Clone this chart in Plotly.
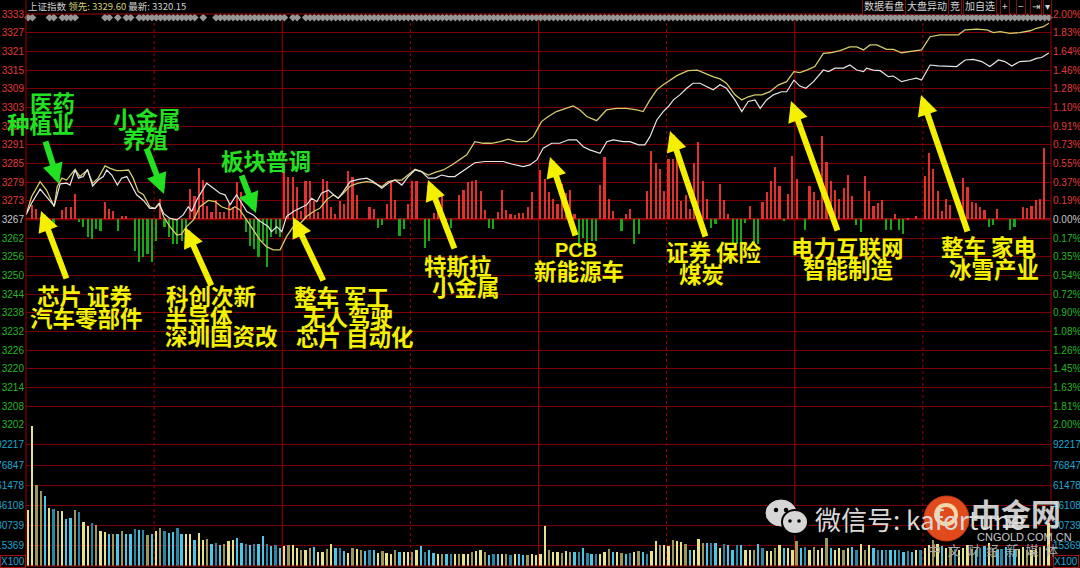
import plotly.graph_objects as go

# ------------------------------------------------------------------ data
PREV_CLOSE = 3267.19
price_labels = ["3333", "3327", "3321", "3315", "3309", "3303", "3297", "3291", "3285", "3279", "3273", "3267",
                "3262", "3256", "3250", "3244", "3238", "3232", "3226", "3220", "3214", "3208", "3202"]
pct_labels = ["2.00%", "1.83%", "1.64%", "1.46%", "1.28%", "1.10%", "0.91%", "0.73%", "0.55%", "0.37%", "0.19%", "0.00%",
              "0.17%", "0.35%", "0.54%", "0.72%", "0.90%", "1.08%", "1.26%", "1.45%", "1.63%", "1.81%", "2.00%"]
VOL_STEP = 15369.5
vol_labels = ["15369", "30739", "46108", "61478", "76847", "92217"]

# index (white) line: minutes after 9:30, price
white_min = [0, 1.3, 3.3, 4.8, 6.6, 8, 9.5, 10.3, 11.5, 12.3,
             13.4, 14.4, 15.6, 16.9, 18.1, 18.9, 20.1, 21.4, 22.4, 23.6,
             24.7, 25.9, 27.5, 29, 30.2, 31.2, 32.2, 33.7, 35.3, 36.8,
             38, 38.8, 40, 41.1, 42.3, 43.9, 45.4, 46.6, 47.8, 48.5,
             49.3, 50.5, 51.7, 53.2, 54.4, 55.6, 56.7, 57.5, 58.7, 59.9,
             61, 62.6, 64.2, 65.7, 66.9, 68.1, 69.2, 70.8, 72, 73.1,
             74.3, 75.9, 77.8, 79.8, 81.3, 83.3, 84.8, 86.4, 88, 89.5,
             91.1, 92.6, 94.2, 95.8, 97.3, 98.9, 100.4, 101.6, 103.2, 105.1,
             107.5, 109.4, 111.8, 113.7, 116.4, 118, 119.6, 121.1, 123.1, 125,
             127, 128.9, 130.5, 132, 134.4, 136, 137.5, 139.9, 141.4, 143.4,
             144.9, 146.1, 147.7, 149.2, 150.4, 151.6, 153.1, 154.7, 156.2, 157.8,
             159.4, 160.9, 162.5, 164, 166, 167.6, 169.1, 170.7, 171.9, 173.4,
             175, 176.9, 178.1, 179.8, 181.2, 182.6, 184.4, 186.7, 187.9, 189.4,
             191.4, 192.9, 194.5, 196.1, 196.8, 198.4, 200, 201.9, 203.1, 205,
             207, 208.5, 209.7, 211.7, 213.6, 216, 217.9, 219.9, 221.8, 223.8,
             225.7, 227.7, 229.2, 230.8, 232.7, 235.1, 236.6, 237.8, 239.5]
white_px = [3268.6, 3272.3, 3276.8, 3274.4, 3271.5, 3278.5, 3278.7, 3278.1, 3282.9, 3280.3,
            3280.8, 3283.1, 3277.8, 3279.7, 3280.8, 3282.9, 3281.3, 3278.1, 3280.3, 3280.8,
            3278.1, 3275.0, 3273.2, 3270.7, 3270.7, 3272.1, 3269.1, 3267.5, 3267.0, 3268.6,
            3271.2, 3269.7, 3273.4, 3276.0, 3278.7, 3277.1, 3275.5, 3275.0, 3271.8, 3273.4,
            3275.0, 3272.3, 3269.7, 3268.6, 3267.0, 3265.9, 3264.9, 3263.3, 3264.9, 3263.3,
            3268.1, 3269.7, 3270.7, 3271.8, 3273.9, 3272.8, 3275.5, 3276.5, 3275.0, 3273.9,
            3276.0, 3279.2, 3279.9, 3280.3, 3279.2, 3277.1, 3278.7, 3279.7, 3278.1, 3280.8,
            3282.9, 3282.4, 3280.3, 3280.3, 3281.3, 3280.8, 3280.8, 3281.9, 3283.4, 3285.2,
            3285.6, 3285.6, 3285.6, 3284.8, 3284.0, 3284.5, 3286.1, 3289.8, 3291.4, 3291.4,
            3292.5, 3292.5, 3290.3, 3289.3, 3288.2, 3291.9, 3292.5, 3291.9, 3291.9, 3290.9,
            3290.9, 3293.5, 3298.8, 3301.5, 3303.1, 3305.2, 3306.8, 3308.9, 3310.5, 3310.5,
            3309.4, 3308.4, 3310.0, 3308.9, 3305.2, 3301.5, 3304.7, 3305.2, 3302.5, 3305.2,
            3306.8, 3307.8, 3307.8, 3311.5, 3309.6, 3308.9, 3311.0, 3314.7, 3314.2, 3315.3,
            3315.3, 3316.3, 3314.7, 3314.2, 3315.3, 3314.7, 3314.5, 3312.6, 3312.8, 3311.0,
            3311.7, 3312.1, 3311.5, 3316.3, 3316.0, 3315.8, 3315.8, 3317.9, 3318.1, 3317.4,
            3315.8, 3317.9, 3317.4, 3316.0, 3317.4, 3317.6, 3318.4, 3318.7, 3320.15]

# leading (yellow) line
yellow_min = [0, 1.3, 3.3, 4.8, 6.6, 7.3, 8.4, 9.5, 11.5, 12.6,
              14.4, 15.6, 16.9, 18.5, 19.7, 21.2, 22.4, 24, 25.1, 26.3,
              27.5, 29, 30.2, 31.2, 32.2, 33.7, 35.3, 36.4, 37.6, 39.2,
              40.7, 42.7, 44.3, 45.8, 47.8, 48.9, 50.1, 51.7, 53.2, 54.8,
              56.3, 57.9, 59.5, 61, 62.6, 64.2, 65.7, 67.3, 68.8, 70.4,
              72, 73.1, 74.3, 75.9, 77.8, 79.8, 81.3, 83.3, 84.8, 86.4,
              88, 89.5, 91.1, 92.6, 94.2, 95.8, 97.7, 99.7, 101.6, 103.2,
              105.1, 107.1, 109, 111, 112.9, 114.9, 117.2, 118.8, 120.7, 122.3,
              124.2, 126.2, 128.1, 129.7, 131.3, 133.6, 135.9, 138.3, 140.6, 143,
              144.5, 146.1, 147.7, 149.2, 150.8, 152.5, 155, 157.2, 159.3, 161,
              162.5, 164, 166, 167.6, 169.1, 170.7, 172.3, 174.2, 176.2, 178.1,
              179.8, 181.2, 182.8, 184.7, 186.7, 188.3, 190.6, 192.9, 194.5, 196.1,
              197.6, 199.2, 201.5, 203.1, 205, 207, 209.7, 211.7, 214, 216.4,
              218.3, 219.9, 222.6, 225, 226.5, 228.1, 230.4, 232.7, 235.1, 236.6,
              238.2, 239.5]
yellow_px = [3268.6, 3274.4, 3279.2, 3276.5, 3271.2, 3277.6, 3280.3, 3279.7, 3283.1, 3280.8,
             3282.9, 3278.7, 3280.3, 3284.2, 3283.4, 3282.7, 3282.7, 3282.9, 3280.3, 3276.0,
             3275.0, 3271.2, 3270.7, 3272.3, 3268.1, 3264.9, 3262.2, 3262.5, 3264.9, 3267.0,
             3271.2, 3273.2, 3272.8, 3271.2, 3270.2, 3271.2, 3270.2, 3267.0, 3263.8, 3260.6,
             3258.5, 3257.5, 3257.5, 3261.7, 3264.9, 3265.9, 3268.1, 3269.7, 3270.7, 3273.4,
             3275.0, 3273.9, 3275.5, 3277.8, 3278.7, 3279.2, 3278.9, 3277.6, 3279.2, 3279.7,
             3279.7, 3281.3, 3283.1, 3282.4, 3281.3, 3282.1, 3282.9, 3284.5, 3286.1, 3287.7,
             3291.9, 3291.4, 3291.4, 3291.9, 3292.7, 3291.9, 3291.9, 3293.5, 3298.3, 3299.9,
             3301.5, 3302.5, 3303.3, 3302.0, 3299.9, 3298.6, 3302.0, 3302.5, 3302.5, 3302.0,
             3301.5, 3305.2, 3308.4, 3310.0, 3311.5, 3313.0, 3314.5, 3314.7, 3313.5, 3312.5,
             3311.9, 3310.5, 3306.8, 3305.2, 3306.2, 3306.8, 3306.8, 3307.8, 3310.0, 3311.0,
             3314.2, 3313.9, 3314.7, 3315.8, 3320.0, 3320.2, 3320.9, 3322.1, 3322.1, 3321.1,
             3322.7, 3322.7, 3321.3, 3321.3, 3320.2, 3320.5, 3321.1, 3325.3, 3325.9, 3325.9,
             3325.9, 3327.5, 3327.7, 3327.5, 3326.6, 3326.9, 3326.4, 3326.6, 3327.2, 3328.0,
             3328.5, 3329.6]

# red / green strength bars (minute, value in index points from previous close)
flow_min = [2, 3, 6, 7, 9, 10, 11, 12, 13, 14, 15, 16, 17, 18, 19, 20, 21, 22, 23, 24,
            26, 27, 28, 29, 30, 31, 32, 33, 34, 35, 36, 37, 38, 39, 40, 41, 42, 43, 44, 45,
            46, 47, 48, 49, 50, 51, 52, 53, 54, 55, 56, 57, 58, 59, 60, 61, 62, 63, 64, 65,
            66, 67, 68, 69, 70, 71, 72, 73, 74, 75, 76, 77, 78, 81, 82, 83, 84, 85, 86, 87,
            88, 89, 90, 91, 92, 94, 95, 96, 97, 98, 99, 100, 102, 103, 104, 105, 106, 107, 108, 109,
            110, 111, 112, 113, 114, 115, 116, 117, 118, 119, 121, 122, 123, 124, 125, 126, 127, 128, 129, 130,
            131, 132, 133, 134, 135, 136, 137, 138, 140, 141, 142, 143, 144, 146, 147, 148, 149, 150, 151, 152,
            153, 154, 155, 156, 157, 158, 159, 160, 161, 162, 163, 164, 165, 166, 167, 168, 169, 170, 171, 172,
            173, 174, 175, 176, 177, 178, 179, 180, 181, 183, 184, 185, 186, 187, 188, 189, 190, 191, 192, 193,
            194, 195, 196, 197, 198, 199, 200, 201, 202, 203, 204, 205, 206, 207, 209, 211, 212, 213, 214, 215,
            216, 217, 220, 221, 222, 223, 224, 225, 226, 227, 228, 231, 232, 234, 235, 236, 237, 238, 239]
flow_val = [4.7, 3.3, -2.5, -2.0, 3.0, 3.8, 4.0, 8.1, -1.0, -2.5, -5.7, -6.3, -3.1, -3.6, 5.4, 3.3, 2.5, -3.6, 1.2, 1.2,
            -10.0, -13.7, -12.1, -11.0, -13.7, -6.8, 6.5, -2.5, -5.7, -7.8, -7.8, -6.8, -6.3, 9.7, 7.5, 16.3, 12.5, 4.3, 2.2, 6.2,
            2.2, 2.2, 4.9, 3.8, 11.8, 8.6, -4.1, -8.4, -9.4, -12.1, -7.3, -15.3, -5.7, -4.7, -5.7, 17.1, 13.4, 13.4, 10.2, 2.8,
            12.3, 12.3, 5.9, 2.2, 12.8, 12.3, 3.8, 1.7, 5.9, 4.9, 15.5, 13.4, 7.7, 3.9, 3.2, -2.6, -1.8, 4.8, 12.2, 6.0,
            -5.3, -3.2, 4.8, 12.2, 12.2, -9.0, -6.9, 2.1, 5.8, 7.4, -2.1, -2.6, 7.6, 9.5, 11.9, 12.2, 12.4, 9.0, 2.9, -2.6,
            -3.2, 2.3, 9.5, 2.9, 1.6, 1.3, 2.1, 2.1, 3.9, 8.8, 15.7, 12.7, 8.8, 6.4, 4.8, 11.1, 8.5, 9.5, 1.6, -9.0,
            -5.8, -9.5, -6.9, -6.9, 10.8, 19.7, 6.4, 2.6, -3.7, 1.8, 3.2, -8.0, -4.8, 9.0, 21.9, 18.0, 15.9, 9.0, 19.1, 19.1,
            21.2, 5.8, 7.9, 3.2, 18.0, 24.6, 12.2, 6.4, -2.6, -1.6, 11.3, 6.0, 1.8, -8.0, -8.0, -8.0, -1.2, 4.1, -8.0, -8.0,
            5.5, 8.7, 12.1, 16.6, 10.7, -0.5, 8.2, 20.1, 12.7, -3.5, 10.6, 8.7, 6.2, 26.4, 18.4, 12.3, 9.2, 6.5, 10.0, 14.2,
            7.3, -1.9, -4.0, 13.9, 8.9, 4.1, 5.2, 6.0, -3.5, -3.5, 1.8, -3.3, -4.6, 0.4, 1.0, 13.9, 21.2, 15.9, 8.9, 2.7,
            6.6, 4.5, 13.3, 10.3, 5.5, 5.2, 3.9, 2.9, -2.4, -1.9, 3.4, -3.5, -2.4, 3.9, 3.7, 4.4, 6.0, 6.4, 22.7]

# per-minute volume (x100 units)
volume = [42600, 107000, 61600, 57300, 53260, 44660, 43890, 41840, 41840, 35760,
          37030, 43130, 41080, 33480, 30960, 32710, 31190, 26860, 26100, 24350,
          24350, 24880, 26860, 24880, 24350, 28150, 27390, 27390, 23580, 24350,
          26860, 29440, 26860, 25610, 26100, 29440, 24350, 24350, 24350, 19780,
          25610, 19780, 20540, 17250, 18010, 15980, 17250, 19270, 19780, 21830,
          18010, 17250, 15980, 17250, 17250, 22820, 16730, 15220, 16480, 14200,
          15470, 15980, 16480, 13960, 12680, 12170, 14200, 14710, 10900, 10900,
          13450, 16730, 14200, 14200, 11410, 10390, 14200, 12930, 12680, 11660,
          12680, 12170, 10140, 11410, 10390, 9630, 12170, 10900, 10900, 10900,
          10900, 12170, 15470, 10900, 12680, 10140, 9130, 9630, 9130, 9130,
          9630, 9630, 9130, 9130, 10900, 11660, 12680, 10900, 8870, 9130,
          9130, 9130, 9630, 8870, 9130, 9130, 8370, 8370, 9130, 8370,
          9630, 30430, 12680, 10900, 10900, 10390, 11660, 10900, 10900, 10900,
          13960, 10390, 9630, 9630, 9130, 10900, 13450, 10900, 10900, 10390,
          9630, 10390, 10900, 11410, 10900, 9130, 11660, 19020, 16480, 16480,
          15220, 20290, 19020, 18510, 16730, 12680, 12680, 21070, 17760, 18010,
          17760, 17760, 14200, 16730, 16480, 12680, 16480, 15980, 12680, 12680,
          12680, 16730, 14200, 11660, 11410, 14200, 15980, 13960, 14200, 12680,
          19020, 14200, 14710, 12680, 14710, 12680, 14200, 21830, 14200, 12680,
          14200, 12680, 14200, 14710, 12680, 16730, 12680, 16480, 14200, 12680,
          12680, 12680, 12170, 12680, 12680, 10900, 11660, 10900, 12680, 12170,
          14200, 15980, 20290, 17250, 15220, 14200, 15000, 13500, 12700, 14200,
          16500, 13000, 12700, 14200, 15500, 17500, 14200, 12700, 13500, 15000,
          14200, 12700, 13000, 14700, 12700, 12200, 13500, 14700, 15500, 32700]
vol_color_code = ("YYOOCYTOYC" "COTYYTOYYC" "OCOCCTCTOC" "YOTCCTCYYC" "YYOCTCOYYC" "CTCTCCTCTC"
                  "YOYYOYOCYY" "OYCTCYOYOC" "TCYOYYOCYY" "OYCTCCYOCT" "YOYYOYYOCT" "CYOTYCCOYY"
                  "YYOYYOYOCT" "CTCTYYOCYO" "CTYOCTYYOY" "YOYYOCYYOC" "TCYTCCTCYY" "OCTYYOYCYY"
                  "OCTYOYYOCY" "YOYCTYOYCT" "CTCCTCTCYT" "YYOYCYOTYY" "YOCTCYOCTC" "TCYYOYYOYY")

# event flags (minute spans) on the top strip
flag_spans = [(0, 1), (5, 6), (8, 11), (18, 19), (21, 21), (23, 24), (26, 39), (41, 41),
              (44, 60), (62, 63), (65, 239)]

LEAD_VALUE = "3329.60"
LAST_VALUE = "3320.15"

# ------------------------------------------------------------------ geometry helpers
W, H = 1080, 568
L, R, T, B = 26, 1051, 14, 566
PW, PH = R - L, B - T


def px(x):
    return (x - L) / PW


def py(y):
    return (B - y) / PH


SPLIT = py(424.7)
LO, HI = PREV_CLOSE * 0.98, PREV_CLOSE * 1.02
tickvals = [PREV_CLOSE * (1 + 0.02 * k / 11) for k in range(11, -12, -1)]

UP, FLAT, DOWN = "#e23a3a", "#c8c8c8", "#26b626"


def colored(labels):
    out = []
    for i, lab in enumerate(labels):
        c = UP if i < 11 else (FLAT if i == 11 else DOWN)
        out.append(f"<span style='color:{c}'>{lab}</span>")
    return out


CYAN = "#1fa6d2"
GRID = "#7c0000"
VLINE = "#a00000"

fig = go.Figure()

# flow bars
red_x = [m - 0.5 for m, v in zip(flow_min, flow_val) if v > 0]
red_y = [v for v in flow_val if v > 0]
grn_x = [m - 0.5 for m, v in zip(flow_min, flow_val) if v < 0]
grn_y = [v for v in flow_val if v < 0]
fig.add_trace(go.Bar(x=red_x, y=red_y, base=PREV_CLOSE, width=0.38, marker=dict(color="#e03030", line_width=0),
                     yaxis="y", hoverinfo="skip"))
fig.add_trace(go.Bar(x=grn_x, y=grn_y, base=PREV_CLOSE, width=0.38, marker=dict(color="#16a816", line_width=0),
                     yaxis="y", hoverinfo="skip"))

# lines
fig.add_trace(go.Scatter(x=yellow_min, y=yellow_px, mode="lines", line=dict(color="#d4cc6a", width=1.3),
                         yaxis="y", hoverinfo="skip"))
fig.add_trace(go.Scatter(x=white_min, y=white_px, mode="lines", line=dict(color="#e6e6e6", width=1.2),
                         yaxis="y", hoverinfo="skip"))

# volume bars
cmap = {"Y": "#e6e28a", "O": "#9c985a", "C": "#4cc6e4", "T": "#2a88a4"}
code = (vol_color_code + "Y" * len(volume))[:len(volume)]
fig.add_trace(go.Bar(x=[i + 0.5 for i in range(len(volume))], y=volume, width=0.42,
                     marker=dict(color=[cmap[c] for c in code], line_width=0), yaxis="y3", hoverinfo="skip"))

# flags row
flag_x = []
for a, b in flag_spans:
    flag_x += [i + 0.5 for i in range(a, b + 1)]
fig.add_trace(go.Scatter(x=flag_x, y=[HI - 1.15] * len(flag_x), mode="markers", cliponaxis=False,
                         marker=dict(symbol="diamond", size=6, color="#969696", line_width=0),
                         yaxis="y", hoverinfo="skip"))

shapes = []
# vertical time lines
for m, dash in [(30, "dot"), (60, "solid"), (90, "dot"), (120, "solid"), (150, "dot"), (180, "solid"), (210, "dot")]:
    shapes.append(dict(type="line", xref="x", yref="paper", x0=m, x1=m, y0=0, y1=1,
                       line=dict(color=VLINE, width=1, dash=dash), layer="between"))
# borders
shapes.append(dict(type="line", xref="paper", yref="paper", x0=0, x1=0, y0=0, y1=py(0), line=dict(color=VLINE, width=1)))
shapes.append(dict(type="line", xref="paper", yref="paper", x0=1, x1=1, y0=0, y1=py(0), line=dict(color=VLINE, width=1)))
shapes.append(dict(type="line", xref="paper", yref="paper", x0=0, x1=1, y0=0, y1=0, line=dict(color=VLINE, width=1)))
shapes.append(dict(type="line", xref="paper", yref="paper", x0=0, x1=1, y0=1, y1=1, line=dict(color=VLINE, width=1)))
# zero baseline
shapes.append(dict(type="line", xref="paper", yref="y", x0=0, x1=1, y0=PREV_CLOSE, y1=PREV_CLOSE,
                   line=dict(color="#c81414", width=2), layer="between"))

# watermark: wechat icon
shapes.append(dict(type="circle", xref="paper", yref="paper", x0=px(766), x1=px(796), y0=py(500), y1=py(526),
                   fillcolor="#d6d6d6", line=dict(color="#d6d6d6", width=1)))
shapes.append(dict(type="circle", xref="paper", yref="paper", x0=px(782), x1=px(808), y0=py(510), y1=py(534),
                   fillcolor="#d6d6d6", line=dict(color="#000000", width=2)))
for cx, cy, r in [(776, 510, 2.2), (786, 510, 2.2), (790, 521, 1.8), (799, 521, 1.8)]:
    shapes.append(dict(type="circle", xref="paper", yref="paper", x0=px(cx - r), x1=px(cx + r),
                       y0=py(cy - r), y1=py(cy + r), fillcolor="#000000", line=dict(width=0)))
# cngold logo circle
shapes.append(dict(type="circle", xref="paper", yref="paper", x0=px(924), x1=px(969), y0=py(496), y1=py(541),
                   fillcolor="#e04a1c", line=dict(color="#c83a12", width=1)))
shapes.append(dict(type="circle", xref="paper", yref="paper", x0=px(936), x1=px(956), y0=py(505), y1=py(524),
                   fillcolor="rgba(0,0,0,0)", line=dict(color="#f6d7a8", width=4)))

ann = []
CJK = "Noto Sans CJK SC"

# header
ann.append(dict(xref="paper", yref="paper", x=px(26), y=py(6), xanchor="left", yanchor="middle", showarrow=False,
                text=f"上证指数 <span style='color:#d6d070'>领先: {LEAD_VALUE}</span> 最新: {LAST_VALUE}",
                font=dict(family=CJK, size=9.5, color="#d0d0d0")))
# buttons
for label, cx in [("数据看盘", 883.5), ("大盘异动", 926.5), ("竞", 955), ("加自选", 980),
                  ("+", 1005), ("−", 1020.5), ("⇥", 1036), ("▾", 1047)]:
    ann.append(dict(xref="paper", yref="paper", x=px(cx), y=py(6), xanchor="center", yanchor="middle",
                    showarrow=False, text=label, bgcolor="#000000", bordercolor="#7a1010", borderwidth=1, borderpad=1,
                    font=dict(family=CJK, size=10, color="#d4d4d4")))
# X100 boxes
for cx in (13, 1066):
    ann.append(dict(xref="paper", yref="paper", x=px(cx), y=py(561), xanchor="center", yanchor="middle",
                    showarrow=False, text="X100", bordercolor="#a01010", borderwidth=1, borderpad=0,
                    font=dict(family="Liberation Sans", size=10, color=CYAN)))

# green notes
GREEN = "#22e022"
for txt, x, y in [("医药", 28, 102), ("种植业", 5, 123), ("小金属", 111, 118), ("养殖", 121, 138), ("板块普调", 219, 160)]:
    ann.append(dict(xref="paper", yref="paper", x=px(x), y=py(y), xanchor="left", yanchor="middle", showarrow=False,
                    text=txt, font=dict(family=CJK, size=22.5, color=GREEN, weight="bold")))
# yellow notes
YEL = "#f4f000"
for txt, x, y in [("芯片 证券", 35, 295), ("汽车零部件", 28, 317), ("科创次新", 164, 295), ("半导体", 163, 316),
                  ("深圳国资改", 163, 335), ("整车 军工", 292, 296), ("无人驾驶", 301, 316), ("芯片 自动化", 294, 336),
                  ("特斯拉", 422, 265), ("小金属", 430, 286), ("新能源车", 532, 270), ("证券 保险", 664, 251),
                  ("煤炭", 677, 273), ("电力互联网", 789, 247), ("智能制造", 801, 268), ("整车 家电", 939, 246),
                  ("冰雪产业", 947, 268)]:
    ann.append(dict(xref="paper", yref="paper", x=px(x), y=py(y), xanchor="left", yanchor="middle", showarrow=False,
                    text=txt, font=dict(family=CJK, size=22.5, color=YEL, weight="bold")))
ann.append(dict(xref="paper", yref="paper", x=px(553), y=py(250), xanchor="left", yanchor="middle", showarrow=False,
                text="PCB", font=dict(family="Liberation Sans", size=20, color=YEL, weight="bold")))

# arrows: (tail, tip, colour)
for (tx, ty), (hx, hy), col in [((45, 140), (59, 184), GREEN), ((146, 147), (164, 194), GREEN),
                               ((241, 174), (256, 213), GREEN),
                               ((67, 280), (41, 211), YEL), ((212, 287), (185, 227), YEL), ((324, 282), (293, 217), YEL),
                               ((455, 250), (428, 180), YEL), ((576, 237), (550, 157), YEL), ((706, 238), (670, 131), YEL),
                               ((838, 232), (791, 101), YEL), ((968, 233), (921, 95), YEL)]:
    ann.append(dict(xref="paper", yref="paper", x=px(hx), y=py(hy), ax=tx - hx, ay=ty - hy, text="",
                    showarrow=True, arrowhead=2, arrowsize=0.68, arrowwidth=6, arrowcolor=col, standoff=0))

# watermark text
ann.append(dict(xref="paper", yref="paper", x=px(813), y=py(518), xanchor="left", yanchor="middle", showarrow=False,
                text="微信号: kafortune", font=dict(family=CJK, size=26, color="#d8d8d8")))
ann.append(dict(xref="paper", yref="paper", x=px(969), y=py(512), xanchor="left", yanchor="middle", showarrow=False,
                text="中金网", font=dict(family=CJK, size=30, color="rgba(225,225,225,0.92)", weight="bold")))
ann.append(dict(xref="paper", yref="paper", x=px(975), y=py(537), xanchor="left", yanchor="middle", showarrow=False,
                text="CNGOLD.COM.CN", font=dict(family="Liberation Sans", size=11, color="#c8c8c8")))
ann.append(dict(xref="paper", yref="paper", x=px(926), y=py(549), xanchor="left", yanchor="middle", showarrow=False,
                text="\u2002".join("中文财经新媒体"), font=dict(family=CJK, size=13, color="#a8a8a8")))

axis_font = dict(family="Liberation Sans", size=10)
fig.update_layout(
    width=W, height=H, margin=dict(l=L, r=W - R, t=T, b=H - B, autoexpand=False),
    paper_bgcolor="#000000", plot_bgcolor="#000000", showlegend=False, barmode="overlay", bargap=0,
    font=dict(family="Liberation Sans", color="#d0d0d0"),
    xaxis=dict(range=[0, 240], showgrid=False, zeroline=False, showticklabels=False, ticks="", fixedrange=True,
               showline=False, automargin=False),
    yaxis=dict(domain=[SPLIT, 1], range=[LO, HI], tickvals=tickvals, ticktext=colored(price_labels),
               showgrid=True, gridcolor=GRID, gridwidth=1, zeroline=False, ticks="", tickfont=axis_font,
               ticklabelstandoff=1, fixedrange=True, automargin=False),
    yaxis2=dict(overlaying="y", side="right", range=[LO, HI], tickvals=tickvals, ticktext=colored(pct_labels),
                showgrid=False, zeroline=False, ticks="", tickfont=axis_font, ticklabelstandoff=1, fixedrange=True,
                automargin=False),
    yaxis3=dict(domain=[0, SPLIT], range=[0, 7 * VOL_STEP], tickvals=[VOL_STEP * k for k in range(1, 7)],
                ticktext=vol_labels, showgrid=True, gridcolor=GRID, gridwidth=1, zeroline=False, ticks="",
                tickfont=dict(family="Liberation Sans", size=10, color=CYAN), ticklabelstandoff=1, fixedrange=True,
                automargin=False),
    yaxis4=dict(overlaying="y3", side="right", range=[0, 7 * VOL_STEP], tickvals=[VOL_STEP * k for k in range(1, 7)],
                ticktext=vol_labels, showgrid=False, zeroline=False, ticks="",
                tickfont=dict(family="Liberation Sans", size=10, color=CYAN), ticklabelstandoff=1, fixedrange=True,
                automargin=False),
    shapes=shapes, annotations=ann,
)
# invisible traces to activate the right-hand axes
fig.add_trace(go.Scatter(x=[None], y=[None], yaxis="y2", showlegend=False))
fig.add_trace(go.Scatter(x=[None], y=[None], yaxis="y4", showlegend=False))

fig.write_html("out.html", config={"displayModeBar": False},
               post_script="document.body.style.margin='0';document.body.style.padding='0';"
                           "document.body.style.background='#000';")
